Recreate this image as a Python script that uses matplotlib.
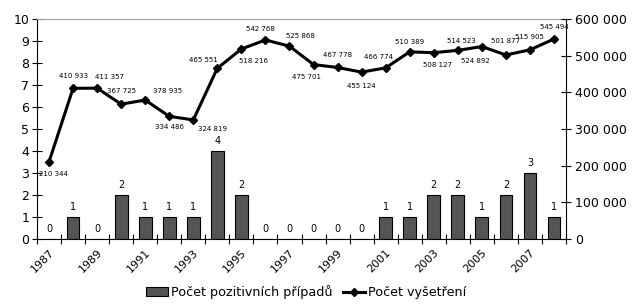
import matplotlib.pyplot as plt
from matplotlib.ticker import FuncFormatter, MultipleLocator
import numpy as np

# data
years = list(range(1987, 2009))
pozitivni = [0, 1, 0, 2, 1, 1, 1, 4, 2, 0, 0, 0, 0, 0, 1, 1, 2, 2, 1, 2, 3, 1]
vysetreni = [210344, 410933, 411357, 367725, 378935, 334486, 324819, 465551,
             518216, 542768, 525868, 475701, 467778, 455124, 466774, 510389,
             508127, 514523, 524892, 501877, 515905, 545494]

# label offsets for line values (pixels)
offs = [(4, -12), (0, 12), (12, 11), (0, 13), (22, 9), (0, -11), (19, -9),
        (-14, 8), (12, -12), (-5, 11), (11, 10), (-7, -12), (0, 12), (0, -14),
        (-7, 11), (0, 10), (4, -12), (4, 9), (-6, -14), (0, 14), (0, 13), (0, 12)]

def fmt(v):
    return f"{int(v):,}".replace(",", " ")

plt.rcParams['font.family'] = ['DejaVu Sans']

fig = plt.figure(figsize=(6.32, 3.04), dpi=100)
ax = fig.add_axes([37/632, 1-239/304, 529/632, 220/304])
x = np.arange(len(years))

ax.bar(x, pozitivni, width=0.53, color='#555555', edgecolor='black', linewidth=0.8,
       label='Počet pozitivních případů', zorder=2)
for xi, v in zip(x, pozitivni):
    ax.text(xi, v + 0.25, str(v), ha='center', va='bottom', fontsize=7)

ax.set_xlim(-0.5, len(years) - 0.5)
ax.set_ylim(0, 10)
ax.yaxis.set_major_locator(MultipleLocator(1))
ax.set_xticks(x[::2])
ax.set_xticklabels([str(y) for y in years[::2]], rotation=45, ha='right',
                   rotation_mode='anchor', fontsize=8)
ax.set_xticks(np.arange(-0.5, len(years), 1), minor=True)
ax.tick_params(axis='x', which='major', length=0, pad=6)
ax.tick_params(axis='x', which='minor', direction='inout', length=7, width=0.8)
ax.tick_params(axis='y', direction='inout', length=7, width=0.8, labelsize=9, pad=2)

ax.spines['top'].set_color('#a0a0a0')
ax.spines['right'].set_visible(False)

ax2 = ax.twinx()
ax2.plot(x, vysetreni, color='black', linewidth=2.2, marker='D', markersize=4.5,
         label='Počet vyšetření', zorder=3)
for xi, v, (dx, dy) in zip(x, vysetreni, offs):
    ax2.annotate(fmt(v), (xi, v), xytext=(dx, dy), textcoords='offset pixels',
                 ha='center', va='center', fontsize=5)
ax2.set_ylim(0, 600000)
ax2.yaxis.set_major_locator(MultipleLocator(100000))
ax2.yaxis.set_major_formatter(FuncFormatter(lambda v, p: fmt(v)))
ax2.tick_params(axis='y', direction='inout', length=7, width=0.8, labelsize=9, pad=3)
ax2.spines['top'].set_visible(False)
ax2.spines['left'].set_visible(False)
ax2.spines['bottom'].set_visible(False)

h1, l1 = ax.get_legend_handles_labels()
h2, l2 = ax2.get_legend_handles_labels()
fig.legend(h1 + h2, l1 + l2, loc='center', bbox_to_anchor=(306/632, 1-292/304),
           ncol=2, frameon=False, fontsize=9.2, handlelength=1.7, handletextpad=0.25,
           columnspacing=0.85, borderpad=0)

fig.savefig('out.png', dpi=100)
